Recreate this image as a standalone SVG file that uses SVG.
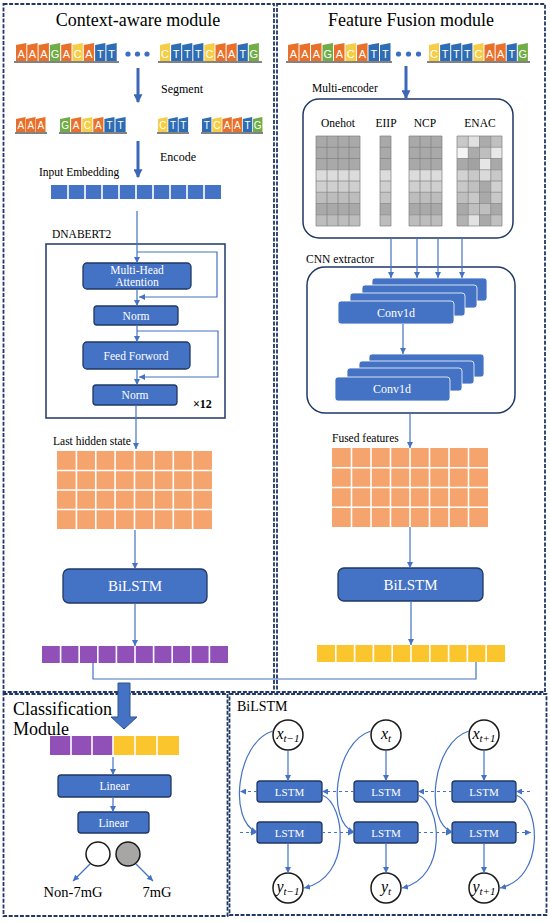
<svg xmlns="http://www.w3.org/2000/svg" width="550" height="923" viewBox="0 0 550 923">
<defs>
<marker id="ah" viewBox="0 0 8 8" refX="8" refY="4" markerWidth="6" markerHeight="6" markerUnits="userSpaceOnUse" orient="auto"><path d="M0 0 L8 4 L0 8 z" fill="#4472C4"/></marker>
<marker id="bh" viewBox="0 0 8 8" refX="7" refY="4" markerWidth="9" markerHeight="9" markerUnits="userSpaceOnUse" orient="auto"><path d="M0 0 L8 4 L0 8 z" fill="#3A67B8"/></marker>
</defs>
<style>
.panel{fill:none;stroke:#203864;stroke-width:1.8;stroke-dasharray:4 1.6}
.box{fill:#4472C4;stroke:#203864;stroke-width:1.3}
.cv{fill:#4472C4;stroke:#ffffff;stroke-width:0.8}
.wt{fill:#fff;font-family:"Liberation Serif",serif;text-anchor:middle}
.lbl{fill:#000;font-family:"Liberation Serif",serif}
.ar{stroke:#4472C4;stroke-width:1.2;fill:none;marker-end:url(#ah)}
.ln{stroke:#4472C4;stroke-width:1.2;fill:none}
.dash{stroke:#4472C4;stroke-width:1.2;fill:none;stroke-dasharray:3 3;marker-end:url(#ah)}
.big{stroke:#3A67B8;stroke-width:3;fill:none;marker-end:url(#bh)}
.A{fill:#E8702A}.G{fill:#70AD47}.C{fill:#F5CD47}.T{fill:#2E6DB4}
.nt{fill:#fff;font-family:"Liberation Sans",sans-serif;text-anchor:middle}
.base{stroke:#595959;stroke-width:1.5}
.dot{fill:#3A6FC4}
.gl{stroke:#7F7F7F;stroke-width:0.7;fill:none}
.wl{stroke:#fff;stroke-width:1.6;fill:none}
.circ{fill:#fff;stroke:#1a1a1a;stroke-width:1.5}
.math{font-family:"Liberation Serif",serif;font-style:italic;text-anchor:middle;fill:#000}
</style>
<rect width="550" height="923" fill="#fff"/>

<!-- panels -->
<g id="panel-context"><rect class="panel" x="3.5" y="4" width="270.5" height="688"/>
<text class="lbl" x="138" y="26" font-size="18" text-anchor="middle">Context-aware module</text></g>
<g id="panel-fusion"><rect class="panel" x="277" y="4" width="268" height="688"/>
<text class="lbl" x="411" y="26" font-size="18" text-anchor="middle">Feature Fusion module</text></g>
<g id="panel-class"><rect class="panel" x="3.5" y="694" width="224" height="222"/>
<text class="lbl" x="13" y="715" font-size="18">Classification</text>
<text class="lbl" x="13" y="735" font-size="18">Module</text></g>
<g id="panel-bilstm"><rect class="panel" x="229.5" y="694" width="317" height="221"/>
<text class="lbl" x="237" y="711" font-size="14">BiLSTM</text></g>

<!-- left sequence -->
<g id="seq-left">
<path class="A" d="M16 45 l10.3 -2 v18 h-10.3z"/><path class="A" d="M27.3 45 l10.3 -2 v18 h-10.3z"/><path class="A" d="M38.6 45 l10.3 -2 v18 h-10.3z"/><path class="G" d="M49.9 45 l10.3 -2 v18 h-10.3z"/><path class="A" d="M61.2 45 l10.3 -2 v18 h-10.3z"/><path class="C" d="M72.5 45 l10.3 -2 v18 h-10.3z"/><path class="A" d="M83.8 45 l10.3 -2 v18 h-10.3z"/><path class="T" d="M95.1 45 l10.3 -2 v18 h-10.3z"/><path class="T" d="M106.4 45 l10.3 -2 v18 h-10.3z"/>
<text class="nt" font-size="11" x="21.2 32.5 43.8 55.1 66.4 77.7 89.0 100.3 111.6" y="57.5" text-anchor="middle">AAAGACATT</text>
<circle class="dot" cx="128" cy="54" r="2.6"/><circle class="dot" cx="137.5" cy="54" r="2.6"/><circle class="dot" cx="147" cy="54" r="2.6"/>
<path class="C" d="M160 45 l10.1 -2 v18 h-10.1z"/><path class="T" d="M171.1 45 l10.1 -2 v18 h-10.1z"/><path class="T" d="M182.2 45 l10.1 -2 v18 h-10.1z"/><path class="T" d="M193.3 45 l10.1 -2 v18 h-10.1z"/><path class="C" d="M204.4 45 l10.1 -2 v18 h-10.1z"/><path class="A" d="M215.5 45 l10.1 -2 v18 h-10.1z"/><path class="A" d="M226.6 45 l10.1 -2 v18 h-10.1z"/><path class="T" d="M237.7 45 l10.1 -2 v18 h-10.1z"/><path class="G" d="M248.8 45 l10.1 -2 v18 h-10.1z"/>
<text class="nt" font-size="11" x="165.1 176.2 187.3 198.4 209.5 220.6 231.7 242.8 253.9" y="57.5">CTTTCAATG</text>
<line class="base" x1="14" y1="62" x2="119" y2="62"/><line class="base" x1="158" y1="62" x2="262" y2="62"/>
</g>
<g id="segment-arrow"><line class="big" x1="138" y1="68" x2="138" y2="102"/><text class="lbl" x="161" y="93" font-size="12">Segment</text></g>

<g id="seq-segmented">
<path class="A" d="M16 119 l9.5 -2 v15 h-9.5z"/><path class="A" d="M26 119 l9.5 -2 v15 h-9.5z"/><path class="A" d="M36 119 l9.5 -2 v15 h-9.5z"/>
<text class="nt" font-size="10" x="20.8 30.8 40.8" y="129">AAA</text>
<path class="G" d="M60 119 l10.1 -2 v15 h-10.1z"/><path class="A" d="M71.1 119 l10.1 -2 v15 h-10.1z"/><path class="C" d="M82.2 119 l10.1 -2 v15 h-10.1z"/><path class="A" d="M93.3 119 l10.1 -2 v15 h-10.1z"/><path class="T" d="M104.4 119 l10.1 -2 v15 h-10.1z"/><path class="T" d="M115.5 119 l10.1 -2 v15 h-10.1z"/>
<text class="nt" font-size="10" x="65.1 76.2 87.3 98.4 109.5 120.6" y="129">GACATT</text>
<path class="C" d="M158 119 l9.5 -2 v15 h-9.5z"/><path class="T" d="M168.3 119 l9.5 -2 v15 h-9.5z"/><path class="T" d="M178.6 119 l9.5 -2 v15 h-9.5z"/>
<text class="nt" font-size="10" x="162.8 173.1 183.4" y="129">CTT</text>
<path class="T" d="M202 119 l9.4 -2 v15 h-9.4z"/><path class="C" d="M212.2 119 l9.4 -2 v15 h-9.4z"/><path class="A" d="M222.4 119 l9.4 -2 v15 h-9.4z"/><path class="A" d="M232.6 119 l9.4 -2 v15 h-9.4z"/><path class="T" d="M242.8 119 l9.4 -2 v15 h-9.4z"/><path class="G" d="M253 119 l9.4 -2 v15 h-9.4z"/>
<text class="nt" font-size="10" x="206.7 216.9 227.1 237.3 247.5 257.7" y="129">TCAATG</text>
<line class="base" x1="15" y1="133" x2="47" y2="133"/><line class="base" x1="59" y1="133" x2="127" y2="133"/><line class="base" x1="157" y1="133" x2="189" y2="133"/><line class="base" x1="201" y1="133" x2="263" y2="133"/>
</g>
<g id="encode-arrow"><line class="big" x1="138" y1="141" x2="138" y2="177"/><text class="lbl" x="160" y="161" font-size="12">Encode</text></g>

<g id="input-embedding">
<text class="lbl" x="39" y="176" font-size="11.5">Input Embedding</text>
<rect x="51" y="185" width="170" height="14" fill="#4472C4"/>
<path class="wl" d="M68 185v14M85 185v14M102 185v14M119 185v14M136 185v14M153 185v14M170 185v14M187 185v14M204 185v14"/>
</g>

<g id="dnabert2">
<text class="lbl" x="52" y="238" font-size="11.5">DNABERT2</text>
<rect x="46" y="244" width="179" height="174" fill="none" stroke="#203864" stroke-width="1.5"/>
<rect class="box" x="83" y="263" width="108" height="26" rx="4"/>
<text class="wt" x="137" y="274" font-size="11.5">Multi-Head</text><text class="wt" x="137" y="286" font-size="11.5">Attention</text>
<rect class="box" x="94" y="306" width="84" height="19" rx="3"/><text class="wt" x="136" y="319.5" font-size="11.5">Norm</text>
<rect class="box" x="83" y="342" width="107" height="27" rx="4"/><text class="wt" x="136" y="359.5" font-size="11.5">Feed Forword</text>
<rect class="box" x="93" y="385" width="84" height="20" rx="3"/><text class="wt" x="135" y="399" font-size="11.5">Norm</text>
<text class="lbl" x="193" y="408" font-size="12" font-weight="bold">×12</text>
</g>

<!-- left column lower -->
<g id="last-hidden-state">
<text class="lbl" x="53" y="445" font-size="11.5">Last hidden state</text>
<rect x="57" y="451" width="155" height="78" fill="#F4A46C"/>
<path class="wl" d="M76.4 451v78M95.8 451v78M115.1 451v78M134.5 451v78M153.9 451v78M173.3 451v78M192.6 451v78M57 470.5h155M57 490h155M57 509.5h155"/>
</g>
<g id="bilstm-left"><rect class="box" x="63" y="569" width="144" height="34" rx="6"/><text class="wt" x="135" y="591" font-size="15">BiLSTM</text></g>
<g id="purple-out">
<rect x="42" y="646" width="186" height="17" fill="#9150B8"/>
<path class="wl" d="M60.6 646v17M79.2 646v17M97.8 646v17M116.4 646v17M135 646v17M153.6 646v17M172.2 646v17M190.8 646v17M209.4 646v17"/>
</g>

<!-- right column -->
<g id="seq-right">
<path class="A" d="M288 45 l10.5 -2 v18 h-10.5z"/><path class="A" d="M299.5 45 l10.5 -2 v18 h-10.5z"/><path class="A" d="M311 45 l10.5 -2 v18 h-10.5z"/><path class="G" d="M322.5 45 l10.5 -2 v18 h-10.5z"/><path class="A" d="M334 45 l10.5 -2 v18 h-10.5z"/><path class="C" d="M345.5 45 l10.5 -2 v18 h-10.5z"/><path class="A" d="M357 45 l10.5 -2 v18 h-10.5z"/><path class="T" d="M368.5 45 l10.5 -2 v18 h-10.5z"/><path class="T" d="M380 45 l10.5 -2 v18 h-10.5z"/>
<text class="nt" font-size="11" x="293.3 304.8 316.3 327.8 339.3 350.8 362.3 373.8 385.3" y="57.5">AAAGACATT</text>
<circle class="dot" cx="398.5" cy="54" r="2.6"/><circle class="dot" cx="408.5" cy="54" r="2.6"/><circle class="dot" cx="418.5" cy="54" r="2.6"/>
<path class="C" d="M429 45 l10.1 -2 v18 h-10.1z"/><path class="T" d="M440.1 45 l10.1 -2 v18 h-10.1z"/><path class="T" d="M451.2 45 l10.1 -2 v18 h-10.1z"/><path class="T" d="M462.3 45 l10.1 -2 v18 h-10.1z"/><path class="C" d="M473.4 45 l10.1 -2 v18 h-10.1z"/><path class="A" d="M484.5 45 l10.1 -2 v18 h-10.1z"/><path class="A" d="M495.6 45 l10.1 -2 v18 h-10.1z"/><path class="T" d="M506.7 45 l10.1 -2 v18 h-10.1z"/><path class="G" d="M517.8 45 l10.1 -2 v18 h-10.1z"/>
<text class="nt" font-size="11" x="434.1 445.2 456.3 467.4 478.5 489.6 500.7 511.8 522.9" y="57.5">CTTTCAATG</text>
<line class="base" x1="286" y1="62" x2="392" y2="62"/><line class="base" x1="427" y1="62" x2="530" y2="62"/>
</g>

<g id="multi-encoder">
<text class="lbl" x="312" y="92" font-size="11.5">Multi-encoder</text>
<rect x="303" y="99" width="210" height="139" rx="16" fill="none" stroke="#203864" stroke-width="1.5"/>
<text class="lbl" x="338" y="127" font-size="11.5" text-anchor="middle">Onehot</text>
<text class="lbl" x="386" y="127" font-size="11.5" text-anchor="middle">EIIP</text>
<text class="lbl" x="425" y="127" font-size="11.5" text-anchor="middle">NCP</text>
<text class="lbl" x="480" y="127" font-size="11.5" text-anchor="middle">ENAC</text>
<!-- onehot -->
<g>
<rect x="316" y="136" width="44" height="33.75" fill="#A9A9A9"/><rect x="316" y="169.75" width="44" height="11.25" fill="#DCDCDC"/><rect x="316" y="181" width="44" height="11.25" fill="#CFCFCF"/><rect x="316" y="192.25" width="44" height="11.25" fill="#BDBDBD"/><rect x="316" y="203.5" width="44" height="11.25" fill="#A9A9A9"/><rect x="316" y="214.75" width="44" height="11.25" fill="#BDBDBD"/>
<path class="gl" d="M316 136h44v90h-44zM327 136v90M338 136v90M349 136v90M316 147.25h44M316 158.5h44M316 169.75h44M316 181h44M316 192.25h44M316 203.5h44M316 214.75h44"/>
</g>
<!-- EIIP -->
<g>
<rect x="380" y="136" width="11" height="33.75" fill="#A9A9A9"/><rect x="380" y="169.75" width="11" height="11.25" fill="#DCDCDC"/><rect x="380" y="181" width="11" height="11.25" fill="#CFCFCF"/><rect x="380" y="192.25" width="11" height="11.25" fill="#C4C4C4"/><rect x="380" y="203.5" width="11" height="11.25" fill="#A9A9A9"/><rect x="380" y="214.75" width="11" height="11.25" fill="#BDBDBD"/>
<path class="gl" d="M380 136h11v90h-11zM380 147.25h11M380 158.5h11M380 169.75h11M380 181h11M380 192.25h11M380 203.5h11M380 214.75h11"/>
</g>
<!-- NCP -->
<g>
<rect x="409" y="136" width="33" height="33.75" fill="#A9A9A9"/><rect x="409" y="169.75" width="33" height="11.25" fill="#DCDCDC"/><rect x="409" y="181" width="33" height="11.25" fill="#CFCFCF"/><rect x="409" y="192.25" width="33" height="11.25" fill="#BDBDBD"/><rect x="409" y="203.5" width="33" height="11.25" fill="#A9A9A9"/><rect x="409" y="214.75" width="33" height="11.25" fill="#BDBDBD"/>
<path class="gl" d="M409 136h33v90h-33zM420 136v90M431 136v90M409 147.25h33M409 158.5h33M409 169.75h33M409 181h33M409 192.25h33M409 203.5h33M409 214.75h33"/>
</g>
<!-- ENAC -->
<g>
<rect x="457" y="136" width="11.25" height="11.25" fill="#C8C8C8"/><rect x="468.25" y="136" width="11.25" height="11.25" fill="#E0E0E0"/><rect x="479.5" y="136" width="11.25" height="11.25" fill="#ABABAB"/><rect x="490.75" y="136" width="11.25" height="11.25" fill="#C0C0C0"/>
<rect x="457" y="147.25" width="11.25" height="11.25" fill="#F4F4F4"/><rect x="468.25" y="147.25" width="11.25" height="11.25" fill="#ABABAB"/><rect x="479.5" y="147.25" width="11.25" height="11.25" fill="#BEBEBE"/><rect x="490.75" y="147.25" width="11.25" height="11.25" fill="#E8E8E8"/>
<rect x="457" y="158.5" width="11.25" height="11.25" fill="#A9A9A9"/><rect x="468.25" y="158.5" width="11.25" height="11.25" fill="#A2A2A2"/><rect x="479.5" y="158.5" width="11.25" height="11.25" fill="#E6E6E6"/><rect x="490.75" y="158.5" width="11.25" height="11.25" fill="#A9A9A9"/>
<rect x="457" y="169.75" width="11.25" height="11.25" fill="#D2D2D2"/><rect x="468.25" y="169.75" width="11.25" height="11.25" fill="#C8C8C8"/><rect x="479.5" y="169.75" width="11.25" height="11.25" fill="#DADADA"/><rect x="490.75" y="169.75" width="11.25" height="11.25" fill="#C8C8C8"/>
<rect x="457" y="181" width="11.25" height="11.25" fill="#C8C8C8"/><rect x="468.25" y="181" width="11.25" height="11.25" fill="#C0C0C0"/><rect x="479.5" y="181" width="11.25" height="11.25" fill="#A9A9A9"/><rect x="490.75" y="181" width="11.25" height="11.25" fill="#D0D0D0"/>
<rect x="457" y="192.25" width="11.25" height="11.25" fill="#BFBFBF"/><rect x="468.25" y="192.25" width="11.25" height="11.25" fill="#C8C8C8"/><rect x="479.5" y="192.25" width="11.25" height="11.25" fill="#A9A9A9"/><rect x="490.75" y="192.25" width="11.25" height="11.25" fill="#C8C8C8"/>
<rect x="457" y="203.5" width="11.25" height="11.25" fill="#A9A9A9"/><rect x="468.25" y="203.5" width="11.25" height="11.25" fill="#BFBFBF"/><rect x="479.5" y="203.5" width="11.25" height="11.25" fill="#BFBFBF"/><rect x="490.75" y="203.5" width="11.25" height="11.25" fill="#A9A9A9"/>
<rect x="457" y="214.75" width="11.25" height="11.25" fill="#B2B2B2"/><rect x="468.25" y="214.75" width="11.25" height="11.25" fill="#E2E2E2"/><rect x="479.5" y="214.75" width="11.25" height="11.25" fill="#A9A9A9"/><rect x="490.75" y="214.75" width="11.25" height="11.25" fill="#C0C0C0"/>
<path class="gl" d="M457 136h45v90h-45zM468.25 136v90M479.5 136v90M490.75 136v90M457 147.25h45M457 158.5h45M457 169.75h45M457 181h45M457 192.25h45M457 203.5h45M457 214.75h45"/>
</g>
</g>

<g id="cnn-extractor">
<text class="lbl" x="306" y="263" font-size="11.5">CNN extractor</text>
<rect x="307" y="267" width="208" height="146" rx="18" fill="none" stroke="#203864" stroke-width="1.5"/>
<rect class="cv" x="372" y="278" width="115" height="23" rx="3"/>
<rect class="cv" x="362" y="285" width="115" height="23" rx="3"/>
<rect class="cv" x="350" y="293" width="115" height="23" rx="3"/>
<rect class="cv" x="338" y="301" width="116" height="23" rx="3"/>
<text class="wt" x="396" y="317" font-size="12">Conv1d</text>
<rect class="cv" x="369" y="354" width="115" height="23" rx="3"/>
<rect class="cv" x="359" y="361" width="115" height="23" rx="3"/>
<rect class="cv" x="347" y="368" width="115" height="23" rx="3"/>
<rect class="cv" x="335" y="377" width="115" height="24" rx="3"/>
<text class="wt" x="392" y="393" font-size="12">Conv1d</text>
</g>

<g id="fused-features">
<text class="lbl" x="332" y="442" font-size="11.5">Fused features</text>
<rect x="332" y="448" width="156" height="79" fill="#F4A46C"/>
<path class="wl" d="M351.5 448v79M371 448v79M390.5 448v79M410 448v79M429.5 448v79M449 448v79M468.5 448v79M332 467.75h156M332 487.5h156M332 507.25h156"/>
</g>
<g id="bilstm-right"><rect class="box" x="338" y="568" width="145" height="33" rx="6"/><text class="wt" x="410.5" y="590" font-size="15">BiLSTM</text></g>
<g id="yellow-out">
<rect x="317" y="645" width="188" height="17" fill="#FBC62D"/>
<path class="wl" d="M335.8 645v17M354.6 645v17M373.4 645v17M392.2 645v17M411 645v17M429.8 645v17M448.6 645v17M467.4 645v17M486.2 645v17"/>
</g>

<!-- classification -->
<g id="concat-arrow"><path d="M118 683 H130 V717 H137 L124 729 L111 717 H118 Z" fill="#4472C4" stroke="#2F528F" stroke-width="1"/></g>
<g id="combined-bar">
<rect x="50" y="736" width="63" height="19" fill="#9150B8"/><rect x="113" y="736" width="66" height="19" fill="#FBC62D"/>
<path class="wl" d="M71 736v19M92 736v19M113 736v19M135 736v19M157 736v19"/>
</g>
<g id="linear1"><rect class="box" x="58" y="775" width="113" height="22" rx="3"/><text class="wt" x="114.5" y="790" font-size="11.5">Linear</text></g>
<g id="linear2"><rect class="box" x="78" y="812" width="71" height="21" rx="3"/><text class="wt" x="113.5" y="826.5" font-size="11.5">Linear</text></g>
<g id="out-neg"><circle class="circ" cx="98" cy="854" r="12"/><text class="lbl" x="73" y="897" font-size="14.5" text-anchor="middle">Non-7mG</text></g>
<g id="out-pos"><circle cx="128" cy="854" r="12" fill="#A8A6A4" stroke="#1a1a1a" stroke-width="1.5"/><text class="lbl" x="157" y="897" font-size="14.5" text-anchor="middle">7mG</text></g>

<!-- BiLSTM detail -->
<g id="x-tm1"><circle class="circ" cx="288" cy="735" r="15"/><text class="math" x="288" y="739" font-size="16">x<tspan font-size="11" dy="3">t−1</tspan></text></g>
<g id="x-t"><circle class="circ" cx="386" cy="735" r="15"/><text class="math" x="386" y="739" font-size="16">x<tspan font-size="11" dy="3">t</tspan></text></g>
<g id="x-tp1"><circle class="circ" cx="484" cy="735" r="15"/><text class="math" x="484" y="739" font-size="16">x<tspan font-size="11" dy="3">t+1</tspan></text></g>
<g id="lstm-f1"><rect class="box" x="257" y="781" width="65" height="21" rx="3"/><text class="wt" x="289.5" y="795.5" font-size="11">LSTM</text></g>
<g id="lstm-f2"><rect class="box" x="354" y="781" width="64" height="21" rx="3"/><text class="wt" x="386" y="795.5" font-size="11">LSTM</text></g>
<g id="lstm-f3"><rect class="box" x="452" y="781" width="64" height="21" rx="3"/><text class="wt" x="484" y="795.5" font-size="11">LSTM</text></g>
<g id="lstm-b1"><rect class="box" x="257" y="822" width="65" height="21" rx="3"/><text class="wt" x="289.5" y="836.5" font-size="11">LSTM</text></g>
<g id="lstm-b2"><rect class="box" x="354" y="822" width="64" height="21" rx="3"/><text class="wt" x="386" y="836.5" font-size="11">LSTM</text></g>
<g id="lstm-b3"><rect class="box" x="452" y="822" width="64" height="21" rx="3"/><text class="wt" x="484" y="836.5" font-size="11">LSTM</text></g>
<g id="y-tm1"><circle class="circ" cx="288" cy="888" r="15"/><text class="math" x="288" y="892" font-size="16">y<tspan font-size="11" dy="3">t−1</tspan></text></g>
<g id="y-t"><circle class="circ" cx="386" cy="888" r="15"/><text class="math" x="386" y="892" font-size="16">y<tspan font-size="11" dy="3">t</tspan></text></g>
<g id="y-tp1"><circle class="circ" cx="484" cy="888" r="15"/><text class="math" x="484" y="892" font-size="16">y<tspan font-size="11" dy="3">t+1</tspan></text></g>

<!-- connectors -->
<g id="connectors">
<line class="ar" x1="137" y1="211" x2="137" y2="263"/>
<path class="ar" d="M137 252 H217 V297 H139"/>
<line class="ar" x1="137" y1="289" x2="137" y2="306"/>
<line class="ar" x1="137" y1="325" x2="137" y2="342"/>
<path class="ar" d="M137 331 H218 V377 H139"/>
<line class="ar" x1="137" y1="369" x2="137" y2="385"/>
<line class="ar" x1="136" y1="405" x2="136" y2="449"/>
<line class="ar" x1="135" y1="530" x2="135" y2="569"/>
<line class="ar" x1="135" y1="603" x2="135" y2="646"/>
<line class="big" x1="406" y1="66" x2="406" y2="98"/>
<line class="ar" x1="391" y1="238" x2="391" y2="278"/>
<line class="ar" x1="417" y1="238" x2="417" y2="278"/>
<line class="ar" x1="438" y1="238" x2="438" y2="278"/>
<line class="ar" x1="462" y1="238" x2="462" y2="278"/>
<line class="ar" x1="403" y1="324" x2="403" y2="354"/>
<line class="ar" x1="410" y1="413" x2="410" y2="448"/>
<line class="ar" x1="410" y1="527" x2="410" y2="568"/>
<line class="ar" x1="411" y1="601" x2="411" y2="645"/>
<path class="ln" d="M93 663 V679 H476 V662"/>
<line class="ar" x1="113" y1="757" x2="113" y2="775"/>
<line class="ar" x1="113" y1="797" x2="113" y2="812"/>
<line class="ar" x1="90" y1="864" x2="73" y2="881"/>
<line class="ar" x1="136" y1="864" x2="153" y2="881"/>
<line class="ar" x1="288" y1="750" x2="288" y2="781"/>
<line class="ar" x1="386" y1="750" x2="386" y2="781"/>
<line class="ar" x1="484" y1="750" x2="484" y2="781"/>
<line class="ar" x1="288" y1="843" x2="288" y2="873"/>
<line class="ar" x1="386" y1="843" x2="386" y2="873"/>
<line class="ar" x1="484" y1="843" x2="484" y2="873"/>
<line class="dash" x1="530" y1="791.5" x2="516" y2="791.5"/>
<line class="dash" x1="452" y1="791.5" x2="418" y2="791.5"/>
<line class="dash" x1="354" y1="791.5" x2="322" y2="791.5"/>
<line class="dash" x1="257" y1="791.5" x2="240" y2="791.5"/>
<line class="dash" x1="240" y1="832.5" x2="257" y2="832.5"/>
<line class="dash" x1="322" y1="832.5" x2="354" y2="832.5"/>
<line class="dash" x1="418" y1="832.5" x2="452" y2="832.5"/>
<line class="dash" x1="516" y1="832.5" x2="531" y2="832.5"/>
<path class="ar" d="M273 731 C236 742, 228 822, 257 832"/>
<path class="ar" d="M371 731 C334 742, 326 822, 354 832"/>
<path class="ar" d="M469 731 C432 742, 424 822, 452 832"/>
<path class="ar" d="M322 795 C346 804, 352 878, 304 888"/>
<path class="ar" d="M418 795 C442 804, 448 878, 402 888"/>
<path class="ar" d="M516 795 C540 804, 546 878, 500 888"/>
</g>
</svg>
